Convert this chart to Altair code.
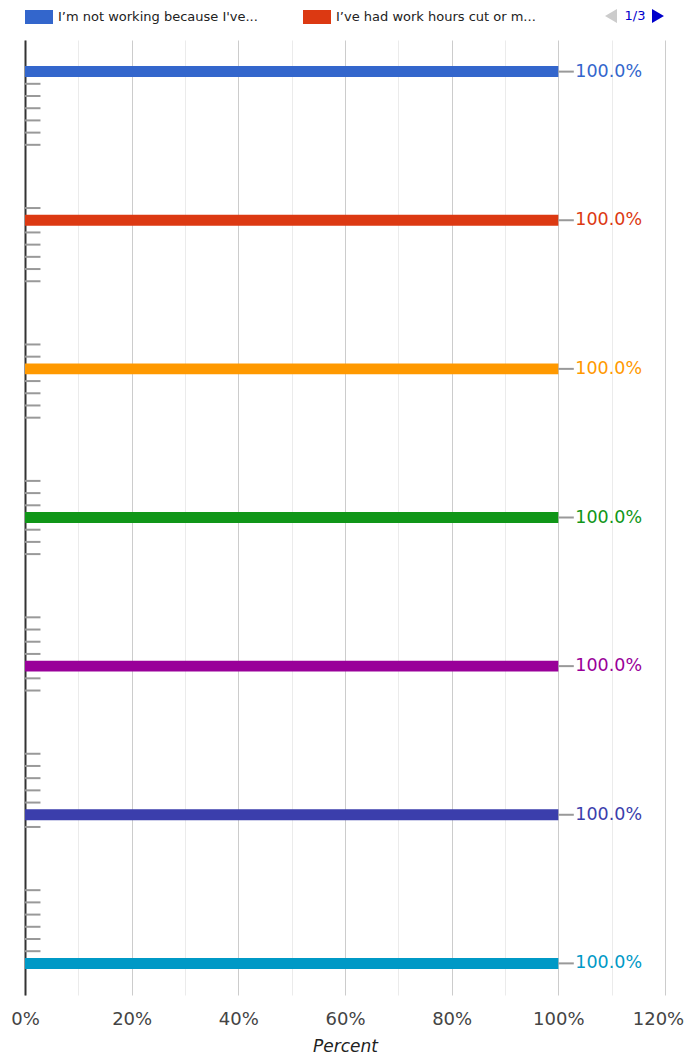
import altair as alt
import pandas as pd

categories = ["Group A", "Group B", "Group C", "Group D", "Group E", "Group F", "Group G"]
series = [
    "I’m not working because I've been laid off",
    "I’ve had work hours cut or my pay reduced",
    "I’m working from home",
    "I’m still working at my usual workplace",
    "I’ve started a new job",
    "I’ve taken unpaid leave",
    "None of the above",
]
colors = ["#3366cc", "#dc3912", "#ff9900", "#109618", "#990099", "#3b3eac", "#0099c6"]

# value of each series in each category (percent)
s1 = [100, 0, 0, 0, 0, 0, 0]
s2 = [0, 100, 0, 0, 0, 0, 0]
s3 = [0, 0, 100, 0, 0, 0, 0]
s4 = [0, 0, 0, 100, 0, 0, 0]
s5 = [0, 0, 0, 0, 100, 0, 0]
s6 = [0, 0, 0, 0, 0, 100, 0]
s7 = [0, 0, 0, 0, 0, 0, 100]
series_values = [s1, s2, s3, s4, s5, s6, s7]

x_ticks = [0, 10, 20, 30, 40, 50, 60, 70, 80, 90, 100, 110, 120]

rows = []
for name, vals in zip(series, series_values):
    for cat, v in zip(categories, vals):
        rows.append({"category": cat, "series": name, "value": v,
                     "label": f"{v:.1f}%"})
df = pd.DataFrame(rows)

FONT = "DejaVu Sans"

y_enc = alt.Y("category:N", sort=categories,
              scale=alt.Scale(paddingInner=0.374, paddingOuter=0.187),
              axis=alt.Axis(labels=False, ticks=False, domain=True, domainColor="#333333",
                            domainWidth=2, title=None, grid=False))
yoff_enc = alt.YOffset("series:N", sort=series,
                       scale=alt.Scale(paddingInner=0.1, paddingOuter=0.05))
x_enc = alt.X("value:Q",
              scale=alt.Scale(domain=[0, 120], nice=False, zero=True),
              axis=alt.Axis(values=x_ticks, title="Percent",
                            labelExpr="datum.value % 20 === 0 ? datum.value + '%' : ''",
                            gridColor={"condition": {"test": "datum.value % 20 === 0", "value": "#cccccc"},
                                       "value": "#ebebeb"},
                            grid=True, ticks=False, domain=False,
                            labelFlush=False, labelOverlap=False,
                            labelOffset={"condition": {"test": "datum.value === 120", "value": -7},
                                         "value": 0},
                            labelFont=FONT, labelFontSize=18, labelColor="#444444",
                            labelPadding=15,
                            titleFont=FONT, titleFontSize=17, titleFontStyle="italic",
                            titleFontWeight="normal", titleColor="#222222", titlePadding=10))
color_scale = alt.Scale(domain=series, range=colors)

base = alt.Chart(df)

bars = base.mark_bar().encode(
    y=y_enc, yOffset=yoff_enc, x=x_enc,
    color=alt.Color("series:N", sort=series, scale=color_scale,
                    legend=alt.Legend(values=series[:2], orient="none", legendX=0, legendY=-37,
                                      direction="horizontal", columns=2, columnPadding=45,
                                      title=None,
                                      symbolType="M-1,-0.5H1V0.5H-1Z", symbolSize=784,
                                      symbolStrokeWidth=0, symbolOpacity=1,
                                      labelExpr="substring(datum.label, 0, 28) + '...'",
                                      labelFont=FONT, labelFontSize=13, labelColor="#222222",
                                      labelOffset=5, labelLimit=400)),
)

stems = base.transform_calculate(stem_end="datum.value + 2.9").mark_rule(
    color="#999999", strokeWidth=2
).encode(y=y_enc, yOffset=yoff_enc, x=x_enc, x2="stem_end:Q")

labels = base.transform_filter("datum.value > 0").mark_text(
    align="left", baseline="middle", dx=17, font=FONT, fontSize=17.5
).encode(y=y_enc, yOffset=yoff_enc, x=x_enc,
         text="label:N",
         color=alt.Color("series:N", sort=series, scale=color_scale, legend=None))

pager = pd.DataFrame({"t": ["1/3"]})
page_text = alt.Chart(pager).mark_text(
    font=FONT, fontSize=13, color="#0000cc", align="center", baseline="middle"
).encode(text="t:N", x=alt.value(610), y=alt.value(-24))
left_tri = alt.Chart(pager).mark_point(
    shape="triangle-left", filled=True, color="#cccccc", size=190, opacity=1
).encode(x=alt.value(586), y=alt.value(-24))
right_tri = alt.Chart(pager).mark_point(
    shape="triangle-right", filled=True, color="#0000cc", size=190, opacity=1
).encode(x=alt.value(633), y=alt.value(-24))

chart = alt.layer(bars, stems, labels, page_text, left_tri, right_tri).properties(
    width=640, height=955,
    background="white",
    autosize=alt.AutoSizeParams(type="none"),
    padding={"left": 17, "top": 32, "right": 19, "bottom": 59},
).configure_view(stroke=None)

chart.save("out.html", embed_options={"renderer": "svg", "actions": False})
